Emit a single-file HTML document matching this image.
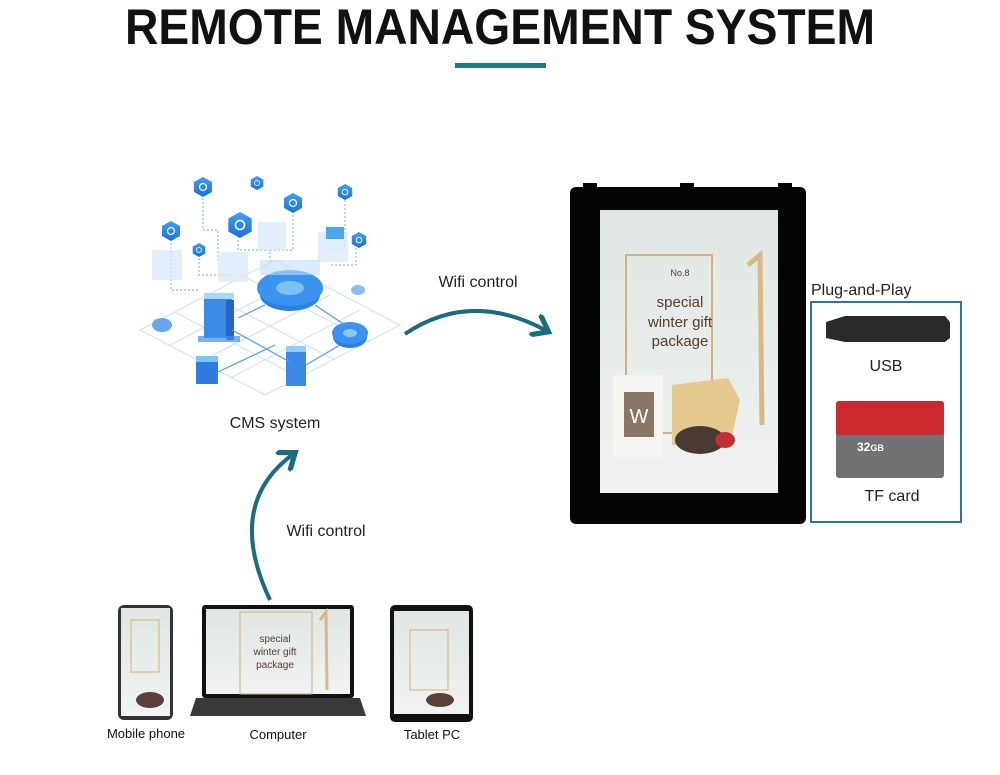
<!DOCTYPE html>
<html><head><meta charset="utf-8"><style>
html,body{margin:0;padding:0;background:#fff;}
svg{display:block;}
text{font-family:"Liberation Sans",sans-serif;}
</style></head><body>
<svg width="1000" height="775" viewBox="0 0 1000 775" xmlns="http://www.w3.org/2000/svg">
<defs>
<marker id="ah" markerWidth="6" markerHeight="6" refX="3" refY="3" orient="auto" markerUnits="strokeWidth">
<path d="M0,0 L4,3 L0,6" fill="none" stroke="#1a6d7e" stroke-width="1.3"/></marker>
<linearGradient id="scr" x1="0" y1="0" x2="0" y2="1"><stop offset="0" stop-color="#dfe6e4"/><stop offset="0.6" stop-color="#e9eeec"/><stop offset="1" stop-color="#f2f3f4"/></linearGradient>
<linearGradient id="gb" x1="0" y1="0" x2="0" y2="1"><stop offset="0" stop-color="#3fa0f2"/><stop offset="1" stop-color="#1f6fd8"/></linearGradient>
<g id="hex"><polygon points="0,-10 9,-5 9,5 0,10 -9,5 -9,-5" fill="url(#gb)"/><circle r="3.5" fill="none" stroke="#fff" stroke-width="1.2"/></g>
<g id="mini">
<rect x="0" y="0" width="1" height="1" fill="url(#scr)"/>
</g>
</defs>
<text x="500" y="44" text-anchor="middle" font-size="50" font-weight="bold" textLength="750" lengthAdjust="spacingAndGlyphs" fill="#111">REMOTE MANAGEMENT SYSTEM</text>
<rect x="455" y="63" width="91" height="5" fill="#1f7a8c"/>

<!-- CMS illustration -->
<g stroke="#cfe0f3" stroke-width="1" fill="none">
<path d="M140,330 L275,260 L400,325 L265,395 Z"/><path d="M170,345 L300,278"/><path d="M200,362 L330,295"/><path d="M230,378 L360,310"/>
<path d="M175,312 L300,378"/><path d="M210,295 L335,360"/><path d="M245,277 L370,342"/>
</g>
<g stroke="#6bb0ee" stroke-width="1" stroke-dasharray="2,2" fill="none">
<path d="M203,186 V230 H218 V262"/><path d="M171,231 V290 H200"/><path d="M199,250 V275 H238"/><path d="M293,203 V250 H268"/><path d="M345,192 V248 H325"/><path d="M356,240 V265 H330"/><path d="M238,224 V250 H270 V262"/>
</g>
<g fill="#dbeaf9" opacity="0.8"><rect x="152" y="250" width="30" height="30"/><rect x="218" y="252" width="30" height="30"/><rect x="258" y="222" width="28" height="28"/><rect x="318" y="232" width="30" height="30"/></g>
<use href="#hex" x="203" y="187"/><use href="#hex" x="257" y="183" transform="translate(257,183) scale(0.7) translate(-257,-183)"/>
<use href="#hex" x="293" y="203"/><use href="#hex" x="345" y="192" transform="translate(345,192) scale(0.8) translate(-345,-192)"/>
<use href="#hex" x="171" y="231"/><use href="#hex" x="240" y="225" transform="translate(240,225) scale(1.3) translate(-240,-225)"/>
<use href="#hex" x="199" y="250" transform="translate(199,250) scale(0.7) translate(-199,-250)"/><use href="#hex" x="359" y="240" transform="translate(359,240) scale(0.8) translate(-359,-240)"/>
<rect x="326" y="227" width="18" height="12" fill="#4da6f0"/>
<g fill="#2c80e0">
<ellipse cx="290" cy="295" rx="30" ry="16"/><ellipse cx="290" cy="288" rx="33" ry="18" fill="#3a93ec"/><ellipse cx="290" cy="288" rx="14" ry="7" fill="#7cc0f8"/>
<ellipse cx="350" cy="337" rx="17" ry="11"/><ellipse cx="350" cy="333" rx="18" ry="11" fill="#3a93ec"/><ellipse cx="350" cy="333" rx="7" ry="4" fill="#8ac8f8"/>
<ellipse cx="162" cy="325" rx="10" ry="7" fill="#6aa6ea"/><ellipse cx="358" cy="290" rx="7" ry="5" fill="#8cbdf0"/>
</g>
<rect x="260" y="260" width="60" height="15" fill="#bfe0fb" opacity="0.6"/>
<g><rect x="204" y="296" width="28" height="42" fill="#3b8ae5"/><rect x="226" y="300" width="8" height="40" fill="#2563c8"/><rect x="204" y="293" width="30" height="6" fill="#a6d9fb"/>
<rect x="198" y="336" width="42" height="6" fill="#3d90ea" opacity="0.7"/></g>
<g><rect x="196" y="360" width="22" height="24" fill="#2e7ce0"/><rect x="196" y="356" width="22" height="6" fill="#7cc5fb"/></g>
<g><rect x="286" y="350" width="20" height="36" fill="#3b88e6"/><rect x="286" y="346" width="20" height="6" fill="#8fd0fb"/></g>
<g stroke="#4f9ef0" stroke-width="1.2" fill="none"><path d="M232,330 L290,362"/><path d="M238,318 L265,305"/><path d="M218,372 L275,345"/><path d="M306,365 L340,345"/><path d="M315,305 L345,325"/></g>
<text x="275" y="428" text-anchor="middle" font-size="16" fill="#222">CMS system</text>

<!-- arrows -->
<path d="M405,334 Q470,290 545,330" fill="none" stroke="#1a6d7e" stroke-width="4" marker-end="url(#ah)"/>
<text x="478" y="287" text-anchor="middle" font-size="16" fill="#222">Wifi control</text>
<path d="M270,600 Q225,505 292,455" fill="none" stroke="#1a6d7e" stroke-width="4" marker-end="url(#ah)"/>
<text x="326" y="536" text-anchor="middle" font-size="16" fill="#222">Wifi control</text>

<!-- main display -->
<rect x="570" y="187" width="236" height="337" rx="6" fill="#050505"/>
<rect x="583" y="183" width="14" height="6" fill="#050505"/><rect x="680" y="183" width="14" height="6" fill="#050505"/><rect x="778" y="183" width="14" height="6" fill="#050505"/>
<rect x="600" y="210" width="178" height="283" fill="url(#scr)"/>
<rect x="626" y="255" width="86" height="178" fill="none" stroke="#d4b07a" stroke-width="2"/>
<path d="M748,265 L760,255 L762,425" fill="none" stroke="#d9b887" stroke-width="5"/>
<text x="680" y="276" text-anchor="middle" font-size="9" fill="#5a3a2a">No.8</text>
<text x="680" y="307" text-anchor="middle" font-size="15" fill="#5a3a2a">special</text>
<text x="680" y="327" text-anchor="middle" font-size="15" fill="#5a3a2a">winter gift</text>
<text x="680" y="346" text-anchor="middle" font-size="15" fill="#5a3a2a">package</text>
<rect x="613" y="375" width="50" height="82" fill="#f6f5f2"/><rect x="624" y="392" width="30" height="45" fill="#8a7763"/>
<text x="639" y="423" text-anchor="middle" font-size="20" fill="#fff">W</text>
<polygon points="672,385 728,378 740,400 730,445 672,445" fill="#e6c98e"/>
<ellipse cx="700" cy="440" rx="25" ry="14" fill="#4a3a34"/><ellipse cx="725" cy="440" rx="10" ry="8" fill="#c03030"/>
<rect x="600" y="460" width="178" height="33" fill="#eef0f2"/>

<!-- plug and play -->
<text x="811" y="295" font-size="16" fill="#222">Plug-and-Play</text>
<rect x="811" y="302" width="150" height="220" fill="none" stroke="#2a7a8e" stroke-width="2"/>
<path d="M826,322 L845,316 L945,316 L950,322 L950,338 L945,342 L845,342 L826,338 Z" fill="#2a2a2a"/>
<text x="886" y="371" text-anchor="middle" font-size="16" fill="#222">USB</text>
<rect x="836" y="401" width="108" height="77" rx="3" fill="#707274"/>
<rect x="836" y="401" width="108" height="34" rx="3" fill="#cc2a30"/>
<text x="857" y="451" font-size="12" font-weight="bold" fill="#fff">32<tspan font-size="9">GB</tspan></text>
<text x="892" y="501" text-anchor="middle" font-size="16" fill="#222">TF card</text>

<!-- devices -->
<rect x="118" y="605" width="55" height="115" rx="6" fill="#333"/>
<rect x="121" y="608" width="49" height="108" fill="url(#scr)"/>
<rect x="131" y="620" width="28" height="52" fill="none" stroke="#d4b07a"/>
<ellipse cx="150" cy="700" rx="14" ry="8" fill="#5a4038"/>
<rect x="202" y="605" width="152" height="93" rx="3" fill="#111"/>
<rect x="206" y="609" width="144" height="85" fill="url(#scr)"/>
<rect x="240" y="612" width="72" height="82" fill="none" stroke="#d4b07a"/>
<path d="M320,620 L326,612 L327,690" fill="none" stroke="#d9b887" stroke-width="3"/>
<text x="275" y="642" text-anchor="middle" font-size="10" fill="#5a3a2a">special</text>
<text x="275" y="655" text-anchor="middle" font-size="10" fill="#5a3a2a">winter gift</text>
<text x="275" y="668" text-anchor="middle" font-size="10" fill="#5a3a2a">package</text>
<path d="M196,698 L360,698 L366,716 L190,716 Z" fill="#3a3a3c"/>
<rect x="390" y="605" width="83" height="117" rx="5" fill="#111"/>
<rect x="394" y="611" width="75" height="103" fill="url(#scr)"/>
<rect x="410" y="630" width="38" height="60" fill="none" stroke="#d4b07a"/>
<ellipse cx="440" cy="700" rx="14" ry="7" fill="#5a4038"/>
<g font-size="13" fill="#111" text-anchor="middle"><text x="146" y="738">Mobile phone</text><text x="278" y="739">Computer</text><text x="432" y="739">Tablet PC</text></g>
</svg>
</body></html>
